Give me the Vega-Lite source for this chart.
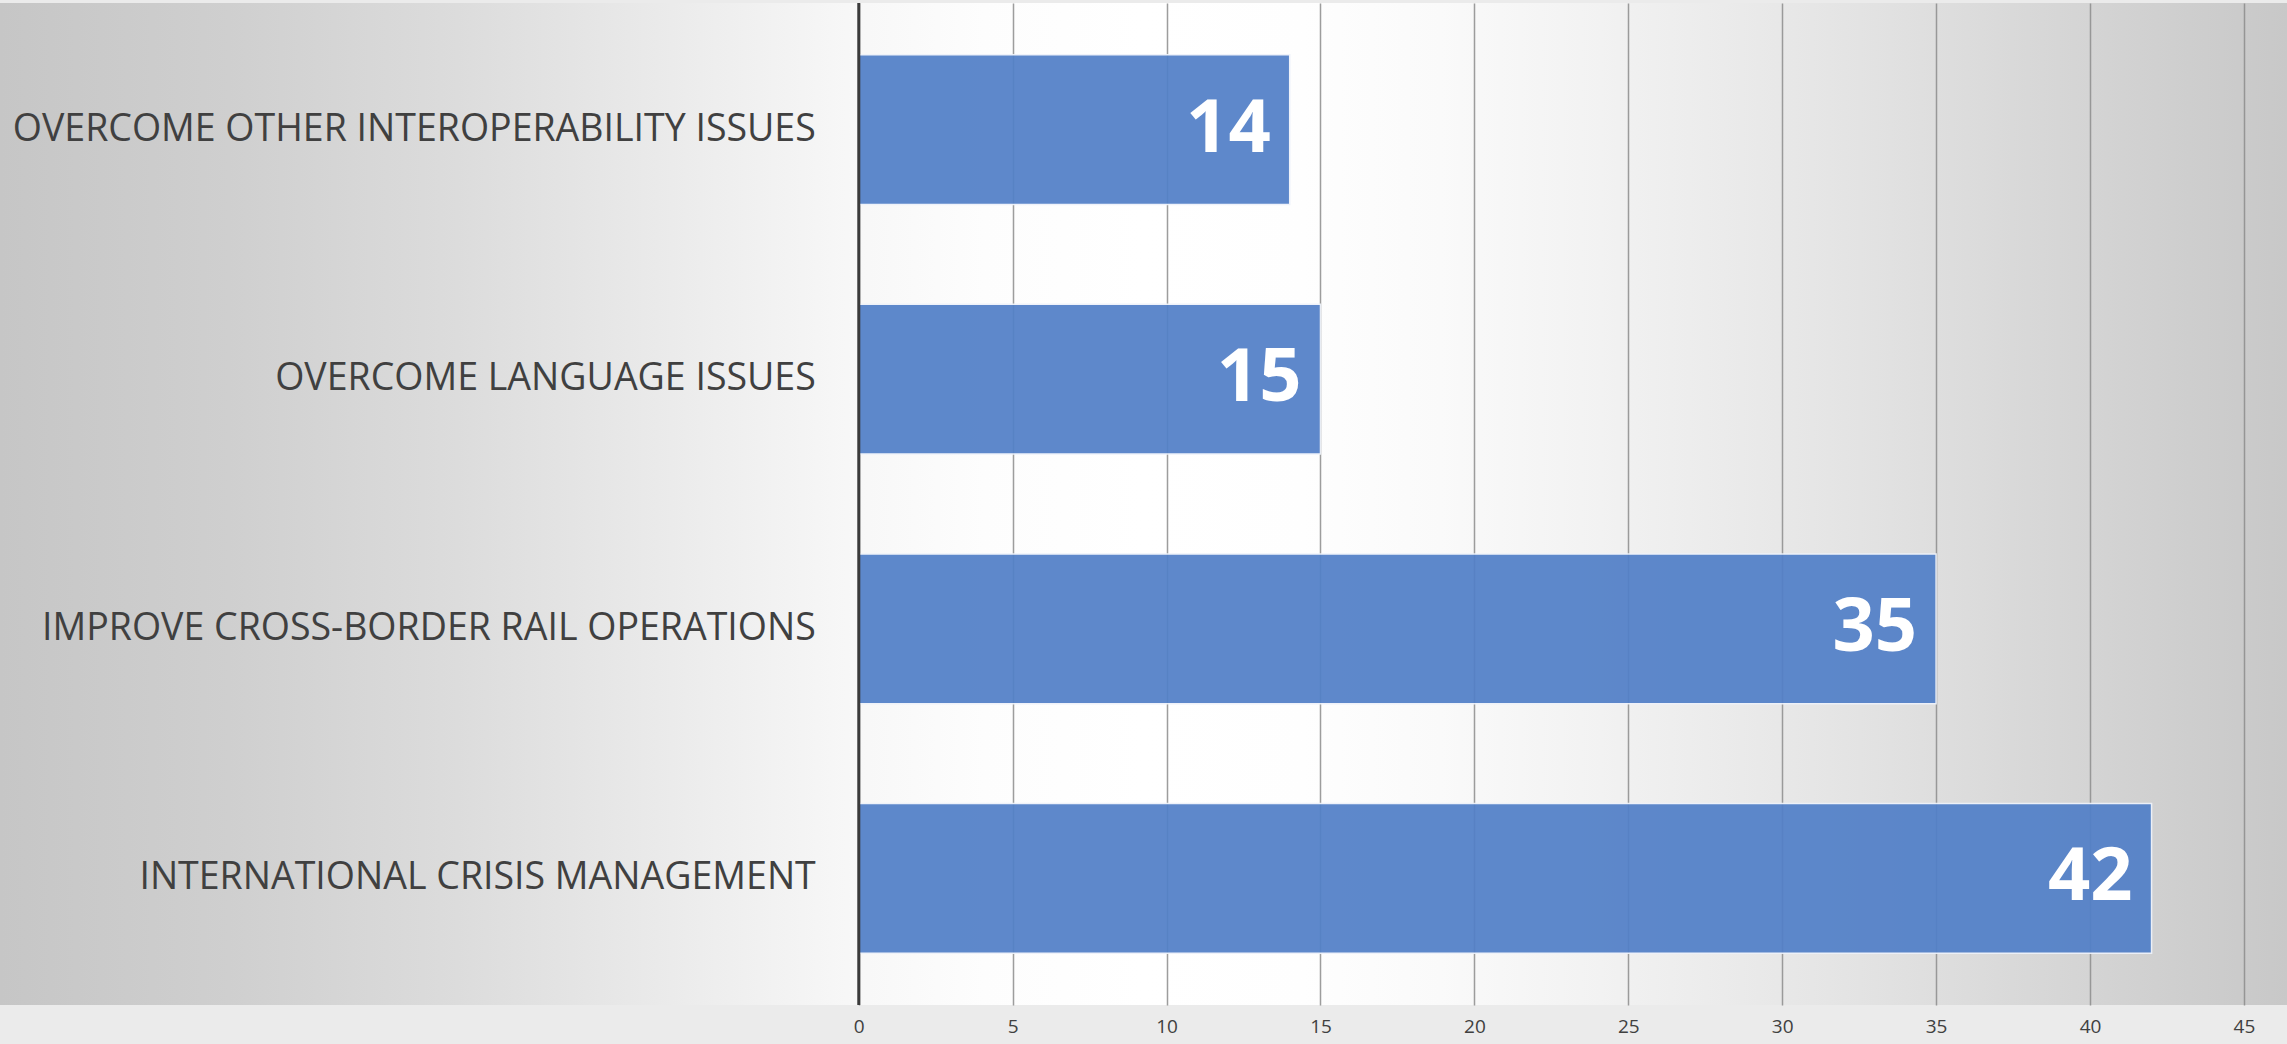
{
  "$schema": "https://vega.github.io/schema/vega-lite/v6.json",
  "width": 2287,
  "height": 1002,
  "autosize": {"type": "none"},
  "padding": {"left": 0, "top": 3, "right": 0, "bottom": 39},
  "background": "#ebebeb",
  "config": {
    "view": {
      "stroke": null,
      "fill": {
        "gradient": "linear",
        "x1": 0, "y1": 0, "x2": 1, "y2": 0,
        "stops": [
          {"offset": 0, "color": "#c6c6c6"},
          {"offset": 0.1, "color": "#cfcfcf"},
          {"offset": 0.2, "color": "#dcdcdc"},
          {"offset": 0.3, "color": "#ececec"},
          {"offset": 0.37, "color": "#f7f7f7"},
          {"offset": 0.43, "color": "#fdfdfd"},
          {"offset": 0.5, "color": "#ffffff"},
          {"offset": 0.57, "color": "#fefefe"},
          {"offset": 0.63, "color": "#fafafa"},
          {"offset": 0.7, "color": "#f2f2f2"},
          {"offset": 0.8, "color": "#e5e5e5"},
          {"offset": 0.9, "color": "#d6d6d6"},
          {"offset": 1, "color": "#c8c8c8"}
        ]
      }
    }
  },
  "data": {
    "values": [
      {"label": "OVERCOME OTHER INTEROPERABILITY ISSUES", "value": 14},
      {"label": "OVERCOME LANGUAGE ISSUES", "value": 15},
      {"label": "IMPROVE CROSS-BORDER RAIL OPERATIONS", "value": 35},
      {"label": "INTERNATIONAL CRISIS MANAGEMENT", "value": 42}
    ]
  },
  "encoding": {
    "y": {
      "field": "label",
      "type": "nominal",
      "sort": null,
      "axis": null,
      "scale": {"paddingInner": 0.4, "paddingOuter": 0.207}
    }
  },
  "layer": [
    {
      "mark": {"type": "bar", "color": "#5280c8", "opacity": 0.93, "stroke": "#eef2fa", "strokeWidth": 1.5},
      "encoding": {
        "x": {
          "field": "value",
          "type": "quantitative",
          "scale": {"domain": [-27.9, 46.4], "nice": false, "zero": false},
          "axis": {
            "values": [0, 5, 10, 15, 20, 25, 30, 35, 40, 45],
            "title": null,
            "domain": false,
            "ticks": false,
            "grid": true,
            "gridColor": "#8c8c8c",
            "gridWidth": 1.5,
            "gridOpacity": 0.85,
            "labelFont": "Open Sans",
            "labelFontSize": 19,
            "labelColor": "#404040",
            "labelPadding": 12
          }
        },
        "x2": {"datum": 0}
      }
    },
    {
      "mark": {"type": "text", "align": "right", "baseline": "middle", "dx": -19, "font": "Open Sans", "fontWeight": "bold", "fontSize": 74, "color": "#ffffff"},
      "encoding": {
        "x": {"field": "value", "type": "quantitative"},
        "text": {"field": "value", "type": "quantitative"}
      }
    },
    {
      "mark": {"type": "text", "align": "right", "baseline": "middle", "dx": -43, "font": "Open Sans", "fontSize": 37.5, "color": "#404040"},
      "encoding": {
        "x": {"datum": 0},
        "text": {"field": "label", "type": "nominal"}
      }
    },
    {
      "data": {"values": [{"zero": 0}]},
      "mark": {"type": "rule", "color": "#3a3a3a", "strokeWidth": 3},
      "encoding": {
        "x": {"field": "zero", "type": "quantitative"},
        "y": null
      }
    }
  ]
}
